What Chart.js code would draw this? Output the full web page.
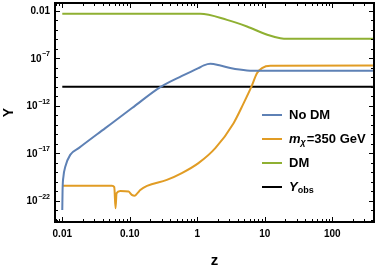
<!DOCTYPE html>
<html>
<head>
<meta charset="utf-8">
<script src="https://cdn.jsdelivr.net/npm/chart.js@4.4.0/dist/chart.umd.min.js"></script>
<style>
html, body { margin: 0; padding: 0; background: #fff; }
</style>
</head>
<body>
<canvas id="grafico" width="382" height="273"></canvas>
<script>
// values (z, Y)
const zNoDM = [0.01, 0.0101, 0.0104, 0.0111, 0.0131, 0.0175, 0.0434, 0.108, 0.283, 0.593, 1.04, 1.25, 1.56, 2.2, 3.08, 5.45, 9.6, 400];
const yNoDM = [1.1e-23, 1.4e-21, 3.6e-20, 4.1e-19, 6.9e-18, 3.5e-17, 4.5e-15, 5.8e-13, 9.3e-11, 1.4e-9, 9.3e-9, 1.8e-8, 2.6e-8, 1.7e-8, 9.3e-9, 5.2e-9, 4.8e-9, 4.8e-9];

const zMx = [0.01, 0.0545, 0.0589, 0.0615, 0.0637, 0.0723, 0.096, 0.107, 0.118, 0.130, 0.143, 0.18, 0.354, 0.59, 1.04, 1.85, 3.45, 4.87, 6.27, 7.7, 9.1, 12.1, 400];
const yMx = [3.8e-21, 3.8e-21, 2.8e-21, 1.7e-23, 6.5e-22, 1.1e-21, 9.5e-22, 4.3e-22, 3.4e-22, 6.5e-22, 1.4e-21, 3.8e-21, 1.6e-20, 8.3e-20, 9.3e-19, 3.5e-17, 1.5e-14, 1.9e-12, 8.5e-11, 2.8e-9, 9.3e-9, 1.6e-8, 1.7e-8];

const zDM = [0.01, 1.1, 2.76, 5.45, 10.9, 17, 21.4, 400];
const yDM = [4.8e-3, 4.8e-3, 1.1e-3, 2.2e-4, 3e-5, 1.3e-5, 1.1e-5, 1.1e-5];

const zObs = [0.01, 400];
const yObs = [1e-10, 1e-10];

const xTicks = [0.01, 0.1, 1, 10, 100];
const xTickLabels = ['0.01', '0.10', '1', '10', '100'];
const yTicks = [1e-22, 1e-17, 1e-12, 1e-7, 1e-2];
// [base, exponent]; empty exponent = plain label
const yTickLabels = [['10', '−22'], ['10', '−17'], ['10', '−12'], ['10', '−7'], ['0.01', '']];

const colores = ['#5e81b5', '#e19c24', '#8fb032', '#000000'];
const fuente = '"Liberation Sans", Arial, sans-serif';

function puntos(xs, ys) {
    return xs.map((x, i) => ({ x: x, y: ys[i] }));
}

// frame with inward ticks, y tick labels, legend and Y title
const marco = {
    id: 'marco',
    afterDraw(chart) {
        const c = chart.ctx;
        const a = chart.chartArea;
        const sx = chart.scales.x, sy = chart.scales.y;
        c.save();
        c.strokeStyle = '#000';
        c.lineWidth = 1;
        // x ticks, major + minor
        for (let e = -3; e <= 3; e++) {
            for (let m = 1; m <= 9; m++) {
                const v = m * Math.pow(10, e);
                if (v < sx.min || v > sx.max) continue;
                const px = Math.round(sx.getPixelForValue(v)) + 0.5;
                const len = m === 1 ? 5 : 3;
                c.beginPath();
                c.moveTo(px, a.bottom); c.lineTo(px, a.bottom - len);
                c.moveTo(px, a.top); c.lineTo(px, a.top + len);
                c.stroke();
            }
        }
        // y ticks, one per decade
        for (let e = -25; e <= -1; e++) {
            const v = Math.pow(10, e);
            if (v < sy.min || v > sy.max) continue;
            const py = Math.round(sy.getPixelForValue(v)) + 0.5;
            const len = (e + 2) % 5 === 0 ? 5 : 3;
            c.beginPath();
            c.moveTo(a.left, py); c.lineTo(a.left + len, py);
            c.moveTo(a.right, py); c.lineTo(a.right - len, py);
            c.stroke();
        }
        c.lineWidth = 2;
        c.strokeRect(a.left, a.top, a.right - a.left, a.bottom - a.top);

        // y tick labels with superscript exponent
        c.fillStyle = '#000';
        c.textBaseline = 'middle';
        c.textAlign = 'right';
        yTicks.forEach((v, i) => {
            const py = sy.getPixelForValue(v);
            const [base, exp] = yTickLabels[i];
            let x = a.left - 5;
            if (exp) {
                c.font = 'bold 7px ' + fuente;
                c.fillText(exp, x, py - 4);
                x -= c.measureText(exp).width + 0.5;
            }
            c.font = 'bold 10px ' + fuente;
            c.fillText(base, x, py + 0.5);
        });

        // Y title
        c.font = 'bold 14px ' + fuente;
        c.textAlign = 'center';
        c.translate(9, (a.top + a.bottom) / 2);
        c.rotate(-Math.PI / 2);
        c.fillText('Y', 0, 0);
        c.setTransform(1, 0, 0, 1, 0, 0);

        // legend
        const lx = 262, ly = 115, paso = 24;
        chart.data.datasets.forEach((ds, i) => {
            const y = ly + i * paso;
            c.strokeStyle = ds.borderColor;
            c.lineWidth = 2;
            c.beginPath();
            c.moveTo(lx, y); c.lineTo(lx + 20, y);
            c.stroke();
            c.fillStyle = '#000';
            c.textAlign = 'left';
            c.textBaseline = 'middle';
            let x = lx + 27;
            if (i === 1) {
                c.font = 'italic bold 13px ' + fuente;
                c.fillText('m', x, y);
                x += c.measureText('m').width;
                c.font = 'italic bold 9px ' + fuente;
                c.fillText('χ', x, y + 4);
                x += c.measureText('χ').width + 1;
                c.font = 'bold 13px ' + fuente;
                c.fillText('=350 GeV', x, y);
            } else if (i === 3) {
                c.font = 'italic bold 13px ' + fuente;
                c.fillText('Y', x, y);
                x += c.measureText('Y').width;
                c.font = 'bold 9px ' + fuente;
                c.fillText('obs', x, y + 4);
            } else {
                c.font = 'bold 13px ' + fuente;
                c.fillText(ds.label, x, y);
            }
        });
        c.restore();
    }
};

const ctx = document.getElementById('grafico').getContext('2d');

const grafico = new Chart(ctx, {
    type: 'line',
    data: {
        datasets: [
            { label: 'No DM', data: puntos(zNoDM, yNoDM), borderColor: colores[0] },
            { label: 'mχ=350 GeV', data: puntos(zMx, yMx), borderColor: colores[1] },
            { label: 'DM', data: puntos(zDM, yDM), borderColor: colores[2] },
            { label: 'Yobs', data: puntos(zObs, yObs), borderColor: colores[3] }
        ]
    },
    options: {
        responsive: false,
        animation: false,
        devicePixelRatio: 1,
        layout: { padding: { left: 0, right: 8, top: 3, bottom: 0 } },
        elements: {
            point: { radius: 0 },
            line: { borderWidth: 2, cubicInterpolationMode: 'monotone', fill: false }
        },
        plugins: {
            legend: { display: false },
            tooltip: { enabled: false }
        },
        scales: {
            x: {
                type: 'logarithmic',
                min: 0.0078,
                max: 415,
                grid: { display: false, drawTicks: false },
                border: { display: false },
                afterBuildTicks: (s) => { s.ticks = xTicks.map(v => ({ value: v })); },
                afterFit: (s) => { s.height = 51; s.paddingLeft = 0; s.paddingRight = 0; },
                ticks: {
                    autoSkip: false,
                    maxRotation: 0,
                    padding: 6,
                    color: '#000',
                    font: { family: fuente, size: 10, weight: 'bold' },
                    callback: (v) => xTickLabels[xTicks.indexOf(v)] ?? ''
                },
                title: {
                    display: true,
                    text: 'z',
                    color: '#000',
                    padding: { top: 0, bottom: 3 },
                    font: { family: fuente, size: 15, weight: 'bold' }
                }
            },
            y: {
                type: 'logarithmic',
                min: 6.2e-25,
                max: 0.065,
                grid: { display: false, drawTicks: false },
                border: { display: false },
                afterBuildTicks: (s) => { s.ticks = yTicks.map(v => ({ value: v })); },
                afterFit: (s) => { s.width = 55; s.paddingTop = 0; s.paddingBottom = 0; },
                ticks: {
                    display: false
                }
            }
        }
    },
    plugins: [marco]
});
</script>
</body>
</html>
